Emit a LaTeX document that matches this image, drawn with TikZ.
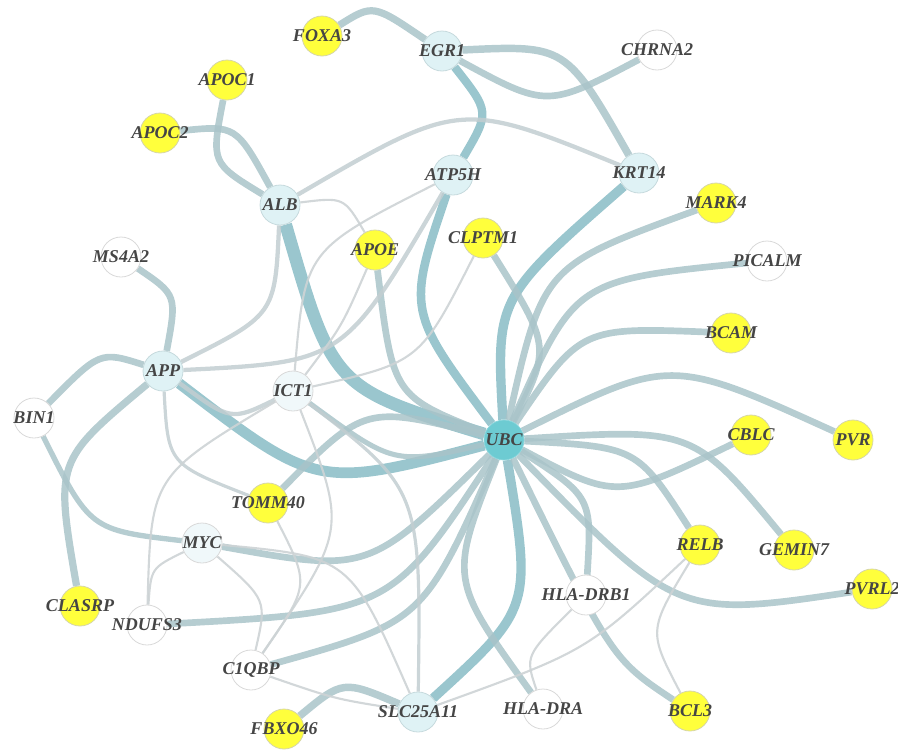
\documentclass[tikz,border=0pt]{standalone}
\usepackage{fontspec}
\setmainfont{Liberation Serif}
\pgfdeclarelayer{bg}
\pgfsetlayers{bg,main}

\definecolor{hitfill}{HTML}{FFFF3C}
\definecolor{hitline}{HTML}{D6D6A8}
\definecolor{queryfill}{HTML}{DFF2F5}
\definecolor{queryline}{HTML}{C6DADD}
\definecolor{palefill}{HTML}{F0F8FA}
\definecolor{hubfill}{HTML}{6DCBD2}
\definecolor{plainline}{HTML}{D9D9D9}
\definecolor{labelgrey}{HTML}{454545}
\definecolor{hubcol}{HTML}{88BCC5}
\definecolor{midcol}{HTML}{A9C4C9}
\definecolor{greycol}{HTML}{C2CED1}
\definecolor{thincol}{HTML}{CDD3D5}

\tikzset{
  gene/.style={circle,minimum size=30pt,inner sep=0pt,line width=0.6pt,
    font=\fontsize{13.5}{15}\selectfont\bfseries\itshape,text=labelgrey,
    execute at begin node={\hbox to 0pt\bgroup\hss},
    execute at end node={\hss\egroup}},
  hitgene/.style={gene,fill=hitfill,draw=hitline},
  querygene/.style={gene,fill=queryfill,draw=queryline},
  plaingene/.style={gene,fill=white,draw=plainline},
  palegene/.style={gene,fill=palefill,draw=plainline},
  hubgene/.style={gene,fill=hubfill,draw=hubfill!80!white},
  hubedge/.style={draw=hubcol,draw opacity=0.85},
  midedge/.style={draw=midcol,draw opacity=0.85,line width=5pt},
  greyedge/.style={draw=greycol,draw opacity=0.85,line width=3.2pt},
  thinedge/.style={draw=thincol,draw opacity=0.9,line width=1.6pt}
}

\begin{document}
\begin{tikzpicture}[x=0.75pt,y=0.75pt,yscale=-1,xscale=1]
\useasboundingbox (0,0) rectangle (898,750);

% Gene Nodes
\node[hitgene] (FOXA3) at (322,36) {FOXA3};
\node[querygene] (EGR1) at (442,51) {EGR1};
\node[plaingene] (CHRNA2) at (657,50) {CHRNA2};
\node[hitgene] (APOC1) at (227,80) {APOC1};
\node[hitgene] (APOC2) at (160,133) {APOC2};
\node[querygene] (ATP5H) at (453,175) {ATP5H};
\node[querygene] (KRT14) at (639,173) {KRT14};
\node[querygene] (ALB) at (280,205) {ALB};
\node[hitgene] (MARK4) at (716,203) {MARK4};
\node[hitgene] (CLPTM1) at (483,238) {CLPTM1};
\node[hitgene] (APOE) at (375,250) {APOE};
\node[plaingene] (MS4A2) at (121,257) {MS4A2};
\node[plaingene] (PICALM) at (767,261) {PICALM};
\node[hitgene] (BCAM) at (731,333) {BCAM};
\node[querygene] (APP) at (163,371) {APP};
\node[palegene] (ICT1) at (293,391) {ICT1};
\node[plaingene] (BIN1) at (34,418) {BIN1};
\node[hubgene] (UBC) at (504,440) {UBC};
\node[hitgene] (CBLC) at (751,435) {CBLC};
\node[hitgene] (PVR) at (853,440) {PVR};
\node[hitgene] (TOMM40) at (268,503) {TOMM40};
\node[hitgene] (RELB) at (700,545) {RELB};
\node[hitgene] (GEMIN7) at (794,550) {GEMIN7};
\node[palegene] (MYC) at (202,543) {MYC};
\node[hitgene] (CLASRP) at (80,606) {CLASRP};
\node[hitgene] (PVRL2) at (872,589) {PVRL2};
\node[plaingene] (HLADRB1) at (586,595) {HLA-DRB1};
\node[plaingene] (NDUFS3) at (147,625) {NDUFS3};
\node[plaingene] (C1QBP) at (251,670) {C1QBP};
\node[querygene] (SLC25A11) at (418,712) {SLC25A11};
\node[hitgene] (FBXO46) at (284,729) {FBXO46};
\node[plaingene] (HLADRA) at (543,709) {HLA-DRA};
\node[hitgene] (BCL3) at (690,711) {BCL3};

\begin{pgfonlayer}{bg}
% Thick Links
\draw[hubedge,line width=9.5pt] (ALB) .. controls (333,388) .. (UBC);
\draw[hubedge,line width=8pt] (APP) .. controls (317,489) .. (UBC);
\draw[hubedge,line width=6.4pt] (ATP5H) .. controls (407,311) .. (UBC);
\draw[hubedge,line width=7pt] (KRT14) .. controls (496,298) .. (UBC);
\draw[hubedge,line width=7pt] (SLC25A11) .. controls (532,608) .. (UBC);
\draw[hubedge,line width=6.2pt] (EGR1) .. controls (490,112) .. (ATP5H);
\draw[hubedge,line width=5.6pt,draw=midcol] (EGR1) .. controls (566,45) .. (KRT14);
\draw[hubedge,line width=5.6pt,draw=midcol] (FBXO46) .. controls (343,680) .. (SLC25A11);

% UBC Links
\draw[midedge] (UBC) .. controls (543,266) .. (MARK4);
\draw[midedge] (UBC) .. controls (575,280) .. (PICALM);
\draw[midedge] (UBC) .. controls (581,327) .. (BCAM);
\draw[midedge] (UBC) .. controls (670,357) .. (PVR);
\draw[midedge] (UBC) .. controls (617,500) .. (CBLC);
\draw[midedge] (UBC) .. controls (637,447) .. (RELB);
\draw[midedge] (UBC) .. controls (693,428) .. (GEMIN7);
\draw[midedge] (UBC) .. controls (677,618) .. (PVRL2);
\draw[midedge] (UBC) .. controls (592,497) .. (HLADRB1);
\draw[midedge] (UBC) .. controls (612,659) .. (BCL3);
\draw[midedge] (UBC) .. controls (449,579) .. (HLADRA);
\draw[midedge] (MYC) .. controls (369,573) .. (UBC);
\draw[midedge] (NDUFS3) .. controls (391,612) .. (UBC);
\draw[midedge] (C1QBP) .. controls (423,622) .. (UBC);
\draw[midedge] (TOMM40) .. controls (365,405) .. (UBC);
\draw[midedge,line width=3.8pt] (ICT1) .. controls (394,465) .. (UBC);
\draw[midedge] (APOE) .. controls (393,396) .. (UBC);
\draw[midedge] (CLPTM1) .. controls (551,347) .. (UBC);

% Outer Links
\draw[midedge,line width=5.4pt] (FOXA3) .. controls (373,4) .. (EGR1);
\draw[midedge] (EGR1) .. controls (547,108) .. (CHRNA2);
\draw[midedge] (APOC1) .. controls (211,163) .. (ALB);
\draw[midedge] (APOC2) .. controls (236,125) .. (ALB);
\draw[midedge] (MS4A2) .. controls (177,295) .. (APP);
\draw[midedge] (BIN1) .. controls (100,351) .. (APP);
\draw[midedge,line width=4pt] (BIN1) .. controls (90,530) .. (MYC);
\draw[midedge,line width=5.4pt] (CLASRP) .. controls (55,461) .. (APP);

% Grey Links
\draw[greyedge] (ALB) .. controls (460,100) .. (KRT14);
\draw[greyedge] (APP) .. controls (275,315) .. (ALB);
\draw[greyedge] (APP) .. controls (344,362) .. (ATP5H);
\draw[greyedge] (APP) .. controls (231,421) .. (ICT1);
\draw[greyedge,line width=2.4pt] (APP) .. controls (168,464) .. (TOMM40);
\draw[greyedge,line width=2.4pt] (ICT1) .. controls (421,490) .. (SLC25A11);

% Thin Links
\draw[thinedge] (ICT1) .. controls (305,250) .. (ATP5H);
\draw[thinedge] (ICT1) .. controls (342,326) .. (APOE);
\draw[thinedge] (ICT1) .. controls (420,362) .. (CLPTM1);
\draw[thinedge] (ALB) .. controls (344,197) .. (APOE);
\draw[thinedge] (ICT1) .. controls (151,476) .. (NDUFS3);
\draw[thinedge] (ICT1) .. controls (347,530) .. (C1QBP);
\draw[thinedge] (TOMM40) .. controls (310,585) .. (C1QBP);
\draw[thinedge] (MYC) .. controls (267,600) .. (C1QBP);
\draw[thinedge] (MYC) .. controls (151,568) .. (NDUFS3);
\draw[thinedge] (MYC) .. controls (350,557) .. (SLC25A11);
\draw[thinedge] (C1QBP) .. controls (335,699) .. (SLC25A11);
\draw[thinedge] (SLC25A11) .. controls (587,651) .. (RELB);
\draw[thinedge] (RELB) .. controls (648,631) .. (BCL3);
\draw[thinedge] (HLADRB1) .. controls (525,656) .. (HLADRA);
\end{pgfonlayer}

\end{tikzpicture}
\end{document}
